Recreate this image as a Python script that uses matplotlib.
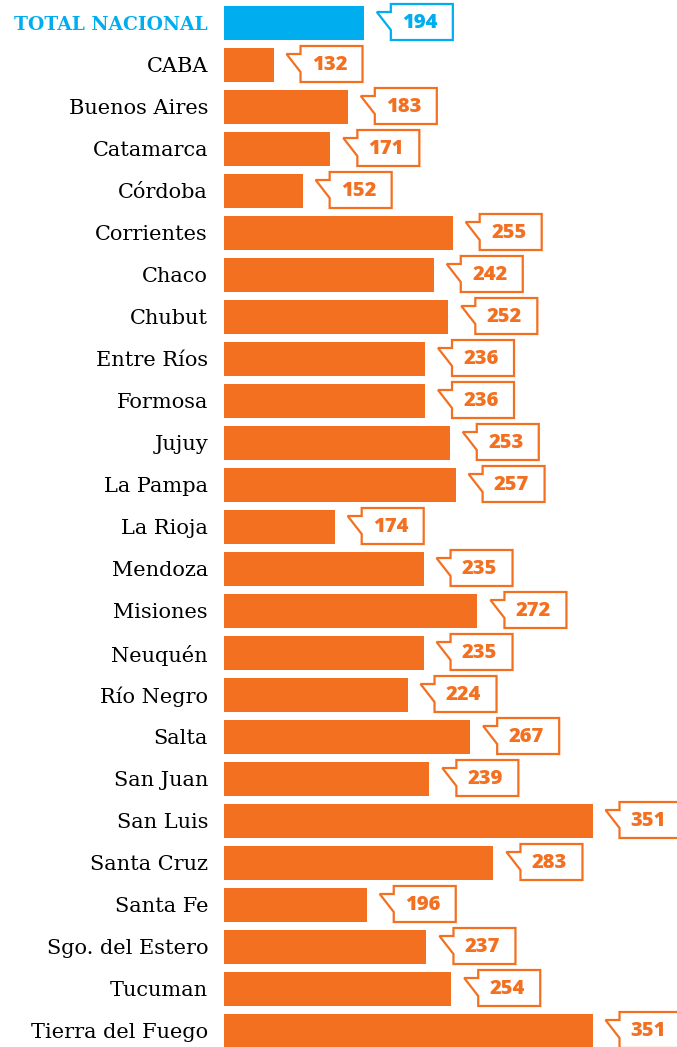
import matplotlib
matplotlib.use("Agg")
import matplotlib.pyplot as plt
import matplotlib.transforms as mtransforms
from matplotlib.patches import Polygon

# data
provinces = [
    "TOTAL NACIONAL", "CABA", "Buenos Aires", "Catamarca", "Córdoba",
    "Corrientes", "Chaco", "Chubut", "Entre Ríos", "Formosa", "Jujuy",
    "La Pampa", "La Rioja", "Mendoza", "Misiones", "Neuquén", "Río Negro",
    "Salta", "San Juan", "San Luis", "Santa Cruz", "Santa Fe",
    "Sgo. del Estero", "Tucuman", "Tierra del Fuego",
]
values = [
    194, 132, 183, 171, 152, 255, 242, 252, 236, 236, 253, 257, 174,
    235, 272, 235, 224, 267, 239, 351, 283, 196, 237, 254, 351,
]

ORANGE = "#F37021"
BLUE = "#00AEEF"

W, H, DPI = 677, 1047, 100
px_per_unit = 1.4566
row_px = 42
x0 = 98

fig = plt.figure(figsize=(W / DPI, H / DPI), dpi=DPI)
left_px = 224
ax = fig.add_axes([left_px / W, 0, (W - left_px) / W, 1])
ax.set_xlim(x0, x0 + (W - left_px) / px_per_unit)
ax.set_ylim((H - 23) / row_px, -23 / row_px)

colors = [BLUE] + [ORANGE] * (len(values) - 1)
ypos = list(range(len(values)))
ax.barh(ypos, [v - x0 for v in values], left=x0, height=34 / row_px,
        color=colors, linewidth=0)

# flag-shaped value labels, shape given in pixels relative to the bar end
flag = [(27, -19), (89, -19), (89, 17), (27, 17), (27, 7), (13, -11), (27, -11)]
for i, (v, c) in enumerate(zip(values, colors)):
    trans = mtransforms.Affine2D().scale(DPI / 100, -DPI / 100) + \
        mtransforms.ScaledTranslation(v, i, ax.transData)
    poly = Polygon(flag, closed=True, facecolor="white", edgecolor=c,
                   linewidth=1.6, transform=trans, clip_on=False,
                   joinstyle="miter")
    ax.add_patch(poly)
    ax.text(56, 0.5, str(v), transform=trans, ha="center", va="center",
            color=c, fontsize=14.5, fontweight="heavy", family="Open Sans")

ax.set_yticks(ypos)
ax.set_yticklabels(provinces, family="DejaVu Serif", fontsize=15)
ax.tick_params(axis="y", length=0, pad=11.5)
tl = ax.get_yticklabels()[0]
tl.set_color(BLUE)
tl.set_fontweight("bold")
tl.set_fontsize(13.5)
ax.set_xticks([])
for s in ax.spines.values():
    s.set_visible(False)

fig.savefig("out.png", dpi=DPI)
